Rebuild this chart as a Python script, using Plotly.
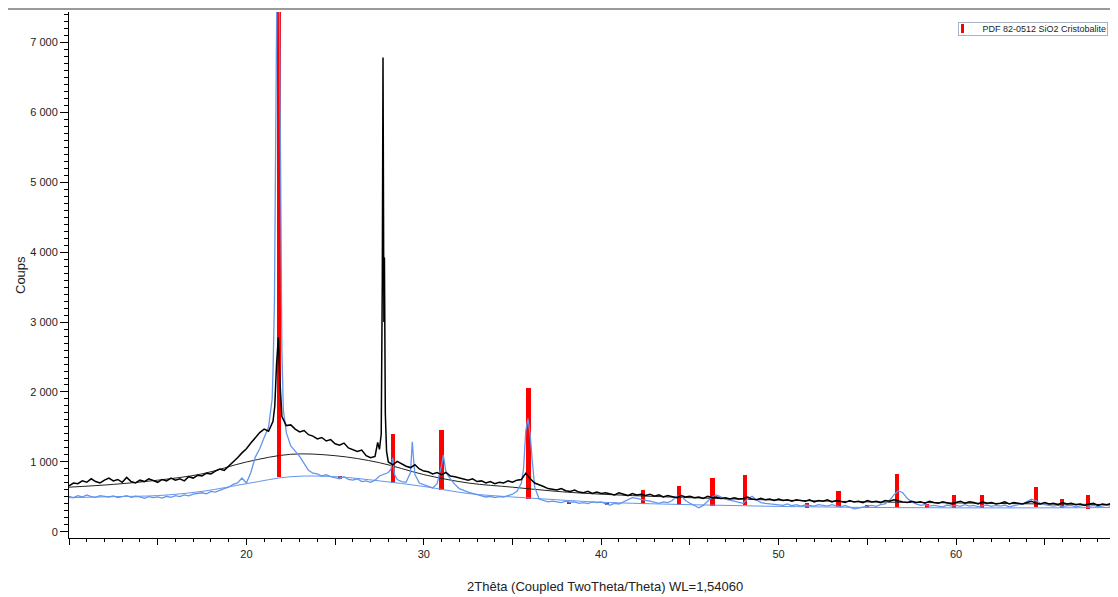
import numpy as np
import plotly.graph_objects as go

# measurement grid: 10.00 .. 69.50 deg 2theta, 0.25 step
two_theta = np.round(np.arange(10.0, 69.51, 0.25), 2)

# sample 1 (black) counts on the grid
black_counts = [
    660, 700, 690, 730, 710, 760, 720, 700, 740, 770,
    730, 750, 710, 780, 720, 700, 740, 720, 760, 730,
    710, 750, 730, 770, 740, 760, 730, 790, 770, 810,
    800, 840, 830, 870, 900, 880, 940, 990, 1060, 1130,
    1190, 1270, 1350, 1420, 1470, 1440, 1580, 2650, 1650, 1520,
    1530, 1470, 1430, 1450, 1390, 1370, 1330, 1350, 1300, 1320,
    1260, 1240, 1270, 1200, 1180, 1150, 1170, 1090, 1060, 1080,
    1180, 3000, 1000, 960, 1010, 970, 940, 920, 960, 900,
    870, 860, 830, 850, 820, 850, 800, 790, 770, 760,
    740, 760, 720, 730, 700, 720, 690, 710, 700, 730,
    710, 740, 750, 840, 760, 700, 680, 650, 620, 610,
    600, 620, 590, 580, 600, 570, 560, 580, 550, 570,
    550, 560, 540, 530, 560, 540, 520, 550, 530, 540,
    520, 540, 510, 530, 500, 520, 510, 490, 520, 500,
    510, 490, 500, 480, 510, 490, 500, 480, 490, 470,
    490, 470, 480, 500, 470, 460, 480, 460, 470, 450,
    470, 450, 460, 440, 460, 450, 440, 460, 430, 450,
    440, 460, 430, 450, 440, 420, 450, 430, 440, 420,
    450, 430, 440, 420, 450, 440, 460, 440, 430, 420,
    440, 420, 430, 410, 440, 420, 410, 430, 420, 400,
    420, 440, 410, 430, 420, 400, 430, 410, 420, 400,
    410, 430, 400, 420, 410, 400, 420, 440, 410, 400,
    420, 400, 410, 390, 420, 400, 410, 390, 400, 380,
    400, 410, 380, 400, 390, 410, 380, 400, 390,
]
# extra points on the sharp black peaks
black_peak_x = [21.6, 21.7, 21.8, 21.88, 21.95, 27.4, 27.6, 27.66, 27.7, 27.78, 27.83, 27.9]
black_peak_y = [1800, 2400, 2780, 2200, 1850, 1280, 1400, 3600, 6780, 3920, 1700, 1150]

# sample 2 (blue) counts on the grid
blue_counts = [
    510, 490, 520, 500, 530, 505, 495, 520, 510, 500,
    515, 490, 505, 520, 495, 510, 500, 480, 505, 490,
    500, 485, 510, 495, 520, 505, 530, 515, 540, 550,
    560, 545, 580, 570, 600, 620, 640, 680, 700, 770,
    700, 850, 1070, 1190, 1350, 1500, 2300, 8800, 2600, 1420,
    1230, 1150, 1080, 980, 880, 840, 830, 800, 820, 790,
    780, 760, 790, 750, 740, 760, 720, 730, 710, 740,
    800, 830, 850, 1060, 750, 720, 710, 850, 820, 700,
    680, 650, 630, 690, 950, 850, 760, 680, 620, 590,
    570, 550, 530, 520, 500, 510, 490, 505, 500, 520,
    540, 580, 700, 1450, 1380, 640, 470, 450, 430, 440,
    430, 420, 440, 425, 430, 410, 420, 405, 430, 420,
    430, 400, 385, 410, 400, 430, 470, 490, 480, 460,
    450, 440, 420, 410, 430, 420, 450, 510, 520, 450,
    410, 380, 345, 380, 440, 500, 530, 500, 470, 455,
    440, 420, 410, 470, 510, 460, 420, 410, 400, 390,
    390, 380, 400, 375, 390, 370, 385, 380, 370, 390,
    380, 370, 390, 375, 360, 380, 350, 330, 340, 360,
    370, 380, 365, 390, 400, 450, 530, 590, 560, 480,
    430, 400, 380, 390, 370, 380, 375, 360, 385, 370,
    380, 365, 390, 370, 380, 360, 375, 385, 365, 380,
    370, 385, 360, 380, 390, 400, 440, 470, 450, 410,
    390, 380, 370, 385, 360, 375, 380, 360, 370, 385,
    365, 380, 360, 375, 385, 365, 380, 370, 385,
]
blue_peak_x = [21.45, 21.58, 21.66, 21.82, 21.9, 21.97, 22.08, 28.15, 28.35,
               29.35, 29.42, 31.1, 35.62, 35.87, 36.12]
blue_peak_y = [1900, 3300, 5500, 9000, 6000, 3300, 1750, 900, 820,
               1290, 1050, 1100, 900, 1620, 1000]

# fitted amorphous backgrounds
bg_x = [10, 12.5, 15, 17.5, 20, 22.5, 25, 27.5, 30, 32.5, 35, 37.5, 40, 45, 50, 55, 60, 65, 69.5]
bg_black = [640, 680, 740, 830, 1000, 1110, 1090, 990, 820, 700, 640, 580, 540, 490, 455, 430, 415, 400, 390]
bg_blue = [490, 505, 520, 580, 690, 790, 790, 730, 650, 550, 500, 460, 425, 390, 365, 350, 345, 345, 350]

# PDF 82-0512 SiO2 Cristobalite reference lines
stick_pos = [21.82, 25.26, 28.26, 30.99, 35.90, 38.20, 40.32, 42.35, 44.38, 46.27, 48.10,
             51.61, 53.37, 55.00, 56.69, 58.35, 59.89, 61.48, 64.49, 65.97, 67.45, 68.96]
stick_base = [781, 757, 696, 600, 471, 400, 386, 400, 386, 371, 386,
              339, 361, 339, 361, 339, 339, 339, 361, 347, 324, 347]
stick_top = [7600, 800, 1396, 1457, 2061, 433, 414, 600, 661, 771, 814,
             410, 590, 381, 829, 400, 529, 529, 647, 467, 529, 576]
ref_name = "PDF 82-0512 SiO2 Cristobalite"

y_ticks = [0, 1000, 2000, 3000, 4000, 5000, 6000, 7000]
y_tick_text = ["0", "1 000", "2 000", "3 000", "4 000", "5 000", "6 000", "7 000"]
x_ticks = [10, 15, 20, 25, 30, 35, 40, 45, 50, 55, 60, 65, 70]
x_tick_text = ["", "", "20", "", "30", "", "40", "", "50", "", "60", "", "70"]


def merge(grid_x, grid_y, px, py):
    xs = np.concatenate([grid_x, px])
    ys = np.concatenate([np.array(grid_y, float), np.array(py, float)])
    order = np.argsort(xs, kind="stable")
    return xs[order], ys[order]


bx, by = merge(two_theta, black_counts, black_peak_x, black_peak_y)
ux, uy = merge(two_theta, blue_counts, blue_peak_x, blue_peak_y)

BLUE = "#6495ED"
FONT = "Liberation Sans, Arial, sans-serif"

# the page adds an 8px body margin, so the figure is drawn smaller to fit the window
W, H = 1110, 589
ML, MT, MB = 61, 4, 59
PW, PH = W - ML, H - MT - MB


def px(xp):  # page pixel x -> paper
    return (xp - 8 - ML) / PW


def py(yp):  # page pixel y -> paper
    return (H - MB - (yp - 8)) / PH


fig = go.Figure()
fig.add_trace(go.Scatter(x=bg_x, y=bg_blue, mode="lines", line=dict(color=BLUE, width=1, shape="spline"),
                         showlegend=False, hoverinfo="skip"))
fig.add_trace(go.Scatter(x=bg_x, y=bg_black, mode="lines", line=dict(color="#222222", width=1, shape="spline"),
                         showlegend=False, hoverinfo="skip"))
fig.add_trace(go.Scatter(x=ux, y=uy, mode="lines", line=dict(color=BLUE, width=1.3),
                         showlegend=False))
fig.add_trace(go.Scatter(x=bx, y=by, mode="lines", line=dict(color="black", width=1.5),
                         showlegend=False))
fig.add_trace(go.Bar(x=stick_pos, y=[t - b for t, b in zip(stick_top, stick_base)], base=stick_base,
                     width=0.24, marker=dict(color="#ff0000", line=dict(width=0)), name=ref_name,
                     showlegend=False))

fig.update_layout(
    width=W, height=H,
    margin=dict(l=ML, r=0, t=MT, b=MB, autoexpand=False),
    paper_bgcolor="white", plot_bgcolor="white",
    font=dict(family=FONT, size=11, color="#222222"),
    bargap=0,
    showlegend=False,
    xaxis=dict(range=[10, 69.13], showgrid=False, zeroline=False,
               showline=True, linecolor="black", linewidth=1,
               tickmode="array", tickvals=x_ticks, ticktext=x_tick_text,
               ticks="outside", ticklen=6, tickcolor="black",
               minor=dict(dtick=1, ticks="outside", ticklen=3, tickcolor="black")),
    yaxis=dict(range=[-86, 7429], showgrid=False, zeroline=False,
               showline=True, linecolor="black", linewidth=1,
               tickmode="array", tickvals=y_ticks, ticktext=y_tick_text,
               ticks="outside", ticklen=8, tickcolor="black",
               minor=dict(dtick=100, ticks="outside", ticklen=4, tickcolor="black")),
    annotations=[
        dict(text="2Thêta (Coupled TwoTheta/Theta) WL=1,54060", xref="paper", yref="paper",
             x=px(605), y=py(586), xanchor="center", yanchor="middle", showarrow=False,
             font=dict(size=13, family=FONT, color="#222222")),
        dict(text="Coups", xref="paper", yref="paper", x=px(20), y=py(275), textangle=-90,
             xanchor="center", yanchor="middle", showarrow=False,
             font=dict(size=13, family=FONT, color="#222222")),
        # legend box (background and red marker are shapes underneath)
        dict(text=ref_name, xref="paper", yref="paper", x=px(1108), y=py(22),
             xanchor="right", yanchor="top", showarrow=False, width=146, align="right",
             bordercolor="#aab4c8", borderwidth=1, borderpad=1,
             font=dict(size=9, family=FONT, color="#222222")),
    ],
    shapes=[
        dict(type="line", xref="paper", yref="paper", x0=px(8), x1=1.0, y0=py(9), y1=py(9),
             line=dict(color="#9a9a9a", width=2)),
        dict(type="rect", xref="paper", yref="paper", x0=px(957), x1=px(1107), y0=py(34), y1=py(23),
             fillcolor="white", line=dict(width=0), layer="above"),
        dict(type="rect", xref="paper", yref="paper", x0=px(961), x1=px(964), y0=py(33), y1=py(24),
             fillcolor="#ff0000", line=dict(width=0), layer="above"),
    ],
)

fig.write_html("out.html", config={"displayModeBar": False})
